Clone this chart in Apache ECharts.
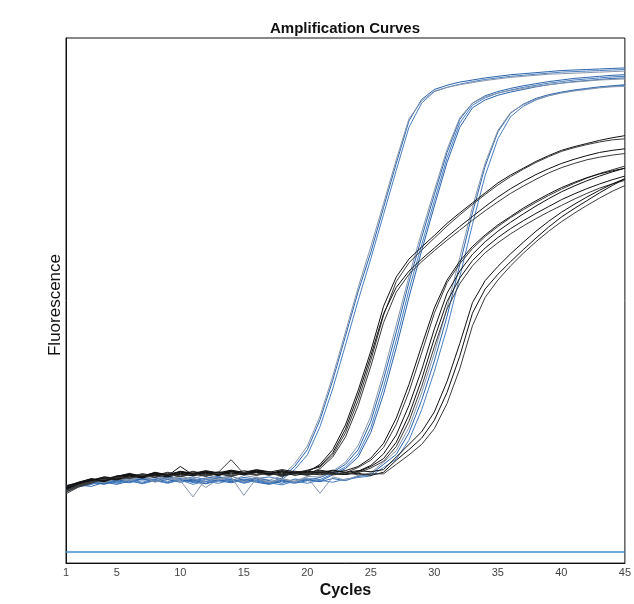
<!DOCTYPE html>
<html>
<head>
<meta charset="utf-8">
<script src="https://cdn.jsdelivr.net/npm/echarts@6/dist/echarts.min.js"></script>
<style>
html,body{margin:0;padding:0;background:#fff;overflow:hidden;}
#chart{width:634px;height:604px;}
</style>
</head>
<body>
<div id="chart"></div>
<script>
// ---- data ----
const cycles = [1,2,3,4,5,6,7,8,9,10,11,12,13,14,15,16,17,18,19,20,21,22,23,24,25,26,27,28,29,30,31,32,33,34,35,36,37,38,39,40,41,42,43,44,45];
const xTickLabels = [1,5,10,15,20,25,30,35,40,45];
const thresholdValue = 2.1;

// blue curves (early group)
const b1a = [14.3,15.0,15.6,15.2,16.0, 15.7,16.3,15.9,16.4,16.1, 15.6,16.2,16.5,15.8,16.3, 16.0,15.4,16.2,18.4,21.6, 27.3,34.8,43.2,51.7,59.2, 67.7,76.1,84.2,88.3,90.2, 91.0,91.6,92.0,92.4,92.7, 93.0,93.2,93.4,93.6,93.8, 93.9,94.0,94.1,94.2,94.3];
const b1b = [13.8,14.9,15.2,15.9,15.5, 16.2,15.8,16.0,16.6,15.9, 16.4,15.9,16.2,16.6,15.7, 16.1,16.4,15.9,17.8,20.6, 26.0,33.2,41.5,50.0,58.0, 66.4,74.8,83.0,87.6,89.8, 90.6,91.2,91.7,92.1,92.4, 92.7,92.9,93.1,93.3,93.5, 93.6,93.7,93.8,93.9,94.0];
const b1c = [14.6,15.3,15.0,16.1,15.8, 16.6,16.0,16.7,15.9,16.5, 16.0,16.9,16.1,15.6,16.7, 16.3,15.8,16.6,18.9,22.3, 28.0,35.6,44.0,52.5,60.3, 68.5,76.8,84.6,88.0,89.9, 90.6,91.1,91.5,91.9,92.2, 92.5,92.7,92.9,93.1,93.2, 93.3,93.4,93.5,93.6,93.7];
// blue curves (middle group)
const b2a = [14.0,14.7,15.5,15.1,15.9, 15.5,16.1,15.7,16.2,15.6, 16.0,15.5,16.3,15.9,15.4, 16.2,15.7,15.2,16.0,15.8, 16.3,17.3,18.8,21.6,27.0, 35.0,44.0,53.5,62.0,70.2, 78.2,84.5,87.6,89.0,89.8, 90.4,90.9,91.3,91.7,92.0, 92.3,92.5,92.7,92.9,93.0];
const b2b = [13.6,14.5,15.0,15.6,15.3, 15.9,15.4,16.0,15.5,16.1, 15.3,15.9,15.6,16.1,15.2, 15.8,15.3,15.9,15.5,16.1, 15.9,17.0,18.3,20.8,25.8, 33.5,42.4,52.0,60.6,69.0, 77.2,83.8,87.2,88.6,89.5, 90.1,90.6,91.0,91.4,91.7, 92.0,92.2,92.4,92.6,92.7];
const b2c = [14.2,14.9,14.6,15.4,15.0, 15.6,15.2,15.8,15.3,15.9, 15.5,15.1,15.7,15.3,15.8, 15.4,15.0,15.6,15.2,15.7, 15.6,16.8,18.0,20.2,24.9, 32.2,41.0,50.6,59.5,68.0, 76.3,83.0,86.7,88.2,89.1, 89.7,90.2,90.7,91.1,91.4, 91.7,91.9,92.1,92.3,92.4];
const b2d = [14.8,15.2,15.8,15.4,16.3, 15.9,16.4,15.6,16.8,15.8, 16.2,14.4,16.0,16.6,15.5, 16.4,15.2,16.1,15.6,16.5, 16.4,17.5,19.2,22.4,28.0, 36.2,45.3,54.6,63.0,71.0, 78.8,84.8,87.6,88.8,89.5, 90.0,90.4,90.8,91.1,91.4, 91.6,91.8,92.0,92.1,92.2];
// blue curves (late group)
const b3a = [14.1,14.8,15.4,15.0,15.7, 15.3,16.0,15.5,15.9,15.4, 15.8,15.2,15.9,15.5,16.0, 15.6,15.1,15.8,15.4,15.9, 15.5,16.1,15.7,16.5,16.9, 18.8,20.7,24.8,31.0,38.5, 47.0,56.8,66.7,75.6,82.1, 85.7,87.4,88.5,89.2,89.7, 90.1,90.4,90.7,90.9,91.1];
const b3b = [13.9,14.6,15.1,15.7,15.2, 15.8,15.1,15.7,15.2,15.8, 15.0,15.6,15.2,15.8,15.3, 15.7,15.3,14.9,15.6,15.2, 15.8,15.4,16.0,16.3,16.6, 18.2,19.8,23.4,29.2,36.5, 44.8,54.5,64.5,73.8,80.8, 85.0,87.0,88.2,89.0,89.6, 90.0,90.3,90.6,90.8,91.0];
const b3c = [14.5,15.1,15.7,15.3,16.1, 15.6,16.5,15.4,16.2,15.7, 12.6,16.1,15.9,16.4,12.9, 16.2,15.4,16.0,15.5,16.3, 13.3,16.4,15.8,16.7,17.2, 19.2,21.4,25.8,32.4,40.0, 48.6,58.2,67.8,76.2,82.4, 85.8,87.3,88.3,89.0,89.5, 89.9,90.2,90.5,90.7,90.8];

// black curves (early group)
const k1a = [14.0,15.1,15.8,16.4,16.2, 16.9,16.6,17.2,16.8,17.4, 17.0,17.5,17.1,17.6,17.2, 17.7,17.3,17.8,17.4,17.3, 18.8,21.6,26.3,32.9,40.4, 48.9,54.5,57.9,60.2,62.4, 64.7,66.7,68.6,70.5,72.4, 73.9,75.2,76.5,77.6,78.6, 79.3,79.9,80.5,81.0,81.4];
const k1b = [13.6,14.8,15.5,16.0,16.6, 16.3,17.0,16.7,17.3,16.9, 17.4,16.8,17.3,19.7,17.0, 17.5,17.1,17.6,17.2,17.7, 18.3,20.6,24.8,31.0,38.6, 47.2,53.6,57.2,59.6,61.9, 64.2,66.3,68.3,70.2,72.0, 73.6,75.0,76.3,77.4,78.4, 79.1,79.7,80.2,80.6,80.8];
const k1c = [14.4,15.4,16.1,15.7,16.5, 17.1,16.5,17.0,16.6,18.4, 16.8,17.2,16.7,17.4,16.9, 17.3,16.8,17.4,17.0,17.6, 18.5,21.0,25.5,32.0,39.5, 47.5,52.5,55.6,57.9,60.0, 62.1,64.1,66.0,67.9,69.7, 71.3,72.7,74.0,75.1,76.1, 76.9,77.6,78.2,78.6,78.9];
const k1d = [13.2,14.5,15.2,16.2,15.8, 16.4,16.9,16.4,17.1,16.6, 17.2,16.6,17.0,16.5,17.1, 16.7,17.2,16.8,17.3,16.9, 18.0,20.2,24.0,30.0,37.5, 45.8,51.6,55.0,57.4,59.5, 61.5,63.4,65.3,67.1,68.8, 70.4,71.8,73.1,74.3,75.3, 76.1,76.8,77.3,77.7,78.0];
// black curves (middle group)
const k2a = [14.2,15.0,15.9,15.5,16.3, 16.7,16.3,16.9,16.5,17.1, 16.7,17.3,16.9,17.4,17.0, 17.5,17.1,16.6,17.2,16.8, 17.4,16.9,16.9,17.5,18.6, 20.8,24.4,30.0,36.8,44.6, 51.4,55.6,58.8,61.2,63.2, 64.9,66.5,68.0,69.4,70.7, 71.8,72.8,73.7,74.5,75.2];
const k2b = [13.9,14.7,15.6,16.1,15.9, 16.5,17.0,16.6,17.2,16.8, 17.5,16.9,17.4,17.0,17.6, 17.2,16.7,17.3,16.9,17.5, 17.0,17.6,17.2,18.2,19.6, 22.0,26.4,32.6,40.0,47.6, 53.4,57.0,59.9,62.2,64.1, 65.8,67.3,68.7,70.0,71.2, 72.3,73.3,74.2,74.9,75.6];
const k2c = [14.6,15.3,15.7,16.4,16.0, 16.8,16.4,17.1,16.7,17.3, 16.9,17.4,17.0,17.5,17.1, 17.6,17.2,16.8,17.3,17.0, 17.5,17.1,16.9,17.4,18.4, 19.9,23.0,28.2,35.0,42.8, 49.8,54.3,57.6,60.0,62.0, 63.7,65.2,66.6,67.9,69.2, 70.3,71.3,72.2,73.0,73.7];
const k2d = [13.5,14.6,15.3,15.9,16.5, 16.2,16.8,16.3,16.9,16.5, 17.0,16.6,17.2,16.8,17.3, 16.9,17.4,16.5,17.1,16.7, 17.2,16.8,17.0,17.2,18.1, 19.4,22.2,27.0,33.6,41.2, 48.4,53.2,56.6,59.1,61.0, 62.7,64.2,65.6,66.9,68.1, 69.3,70.4,71.4,72.2,72.9];
const k2e = [14.1,15.2,16.0,15.6,16.4, 16.9,16.5,17.3,16.8,17.5, 17.1,17.6,17.2,17.7,17.3, 17.8,17.4,17.0,17.5,17.2, 17.7,17.3,17.6,18.4,20.0, 22.8,27.6,34.0,41.4,48.6, 53.9,57.5,60.3,62.5,64.4, 66.0,67.6,69.0,70.3,71.5, 72.5,73.4,74.1,74.7,75.2];
// black curves (late group)
const k3a = [14.3,15.1,15.7,16.2,15.9, 16.6,16.2,16.8,16.4,17.0, 16.6,17.1,16.7,17.2,16.8, 17.3,16.9,17.4,16.7,17.1, 16.8,17.2,16.9,17.1,16.7, 17.3,19.6,21.6,23.8,27.2, 32.5,39.4,47.6,52.2,55.0, 57.4,59.7,61.9,64.0,65.9, 67.5,69.0,70.5,71.9,73.2];
const k3b = [13.8,14.9,15.5,15.9,16.4, 16.1,16.7,16.3,16.9,16.4, 17.0,16.5,17.1,16.6,17.2, 16.8,17.3,16.9,17.4,17.0, 17.5,16.9,17.3,16.8,17.0, 17.0,18.8,20.6,22.6,25.6, 30.4,37.0,45.2,50.6,53.9, 56.6,59.0,61.2,63.2,65.0, 66.6,68.1,69.5,70.8,71.9];
const k3c = [14.7,15.4,16.0,15.6,16.6, 16.9,16.4,17.2,16.7,17.4, 16.9,17.3,16.8,17.5,17.0, 17.4,17.0,17.6,17.1,17.5, 17.2,17.7,17.3,17.6,17.4, 17.8,20.2,22.6,25.0,28.8, 34.6,41.8,49.6,53.8,56.5, 58.9,61.1,63.2,65.1,66.8, 68.3,69.7,71.0,72.2,73.2];

const blueCurves = [b1a, b1b, b1c, b2a, b2b, b2c, b2d, b3a, b3b, b3c];
const blueKinds  = ['d','m','g','d','m','d','g','d','m','g'];
const blackCurves = [k1a, k1b, k1c, k1d, k2a, k2b, k2c, k2d, k2e, k3a, k3b, k3c];
const blackKinds  = ['d','m','d','m','d','m','d','m','d','d','m','d'];

// ---- chart ----
const colorMap = {
  blue: {d:'#2a64ad', m:'#4a7fc1', g:'#8796ad'},
  black:{d:'#111111', m:'#3a3a3a', g:'#666666'}
};
function pairs(arr){ return arr.map((v,i)=>[cycles[i], v]); }

const series = [];
series.push({
  type:'line', data:[[cycles[0], thresholdValue],[cycles[cycles.length-1], thresholdValue]],
  symbol:'none', silent:true, lineStyle:{color:'#3d8fd0', width:1.5}, z:1
});
blueCurves.forEach((c,i)=>series.push({
  type:'line', data:pairs(c), symbol:'none', silent:true,
  lineStyle:{color:colorMap.blue[blueKinds[i]], width:1}, z:2
}));
blackCurves.forEach((c,i)=>series.push({
  type:'line', data:pairs(c), symbol:'none', silent:true,
  lineStyle:{color:colorMap.black[blackKinds[i]], width:1}, z:3
}));

const chart = echarts.init(document.getElementById('chart'), null, {renderer:'canvas'});
chart.setOption({
  animation:false,
  backgroundColor:'#ffffff',
  title:{
    text:'Amplification Curves', left:340, top:16, textAlign:'center',
    textStyle:{fontFamily:'Liberation Sans, Arial, sans-serif', fontSize:15, fontWeight:'bold', color:'#111'}
  },
  grid:{left:66, right:7, top:38, bottom:34, show:true, borderColor:'#111', borderWidth:1, containLabel:false},
  xAxis:{
    type:'value', min:1, max:45,
    name:'Cycles', nameLocation:'middle', nameGap:18,
    nameTextStyle:{fontFamily:'Liberation Sans, Arial, sans-serif', fontSize:16, fontWeight:'bold', color:'#111'},
    axisLine:{show:true, lineStyle:{color:'#111', width:1}},
    axisTick:{show:false},
    splitLine:{show:false},
    axisLabel:{customValues:xTickLabels, margin:4, fontFamily:'Liberation Sans Narrow, Arial Narrow, sans-serif', fontSize:11, color:'#444'}
  },
  yAxis:{
    type:'value', min:0, max:100,
    axisLine:{show:true, lineStyle:{color:'#111', width:1}},
    axisTick:{show:false}, axisLabel:{show:false}, splitLine:{show:false}
  },
  graphic:[{
    type:'text', x:55, y:305, rotation:Math.PI/2,
    style:{text:'Fluorescence', x:0, y:0, align:'center', verticalAlign:'middle',
      font:'17px "Liberation Sans", Arial, sans-serif', fill:'#111'}
  }],
  series:series
});
</script>
</body>
</html>
